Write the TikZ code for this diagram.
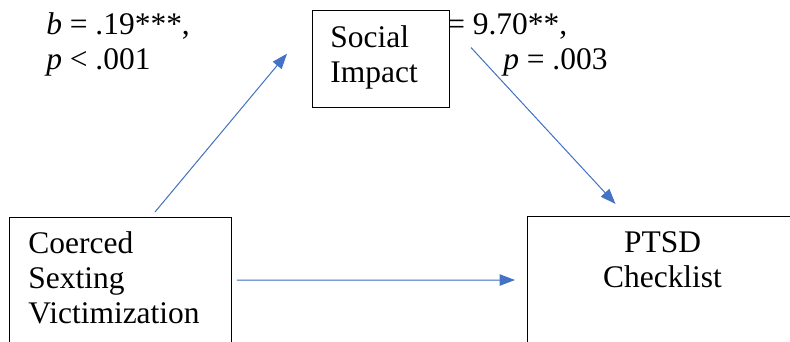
\documentclass[tikz,border=0pt]{standalone}
\usepackage{fontspec}
\setmainfont{Liberation Serif}
\usetikzlibrary{arrows.meta}
\definecolor{pathblue}{RGB}{68,114,196}

\begin{document}
\begin{tikzpicture}[
  every node/.style={font=\fontsize{23.6}{26.4}\selectfont},
  varbox/.style={draw, line width=0.75pt, fill=white, inner ysep=0pt},
  coef/.style={align=left, anchor=base west, inner sep=0pt},
  path arrow/.style={draw=pathblue, line width=0.75pt,
    -{Triangle[length=11.5pt,width=8.5pt]}, fill=pathblue}
]
\useasboundingbox (0,0) rectangle (20.824,8.989);
\clip (0,0) rectangle (20.824,8.989);
\node[coef] (coefa) at (1.213,7.157) {\textit{b} = .19***,\\\textit{p} < .001};
\node[coef] (coefb) at (11.783,7.157) {= 9.70**,\\\hspace*{42pt}\textit{p} = .003};
\node[varbox, anchor=north west, align=left, inner xsep=14.25pt, text width=138pt,
  text height=27pt, text depth=80.25pt] (cscv) at (0.237,3.269)
  {Coerced\\Sexting\\Victimization};
\node[varbox, anchor=north west, align=left, inner xsep=13.5pt, text width=75.75pt,
  text height=27.75pt, text depth=45pt] (social) at (8.224,8.725)
  {Social\\Impact};
\node[varbox, anchor=north west, align=center, inner xsep=7.5pt, text width=187.5pt,
  text height=27pt, text depth=81pt] (ptsd) at (13.892,3.295)
  {PTSD\\Checklist};
\draw[path arrow] ([shift={(109.5pt,3.75pt)}]cscv.north west)
  -- ([shift={(-18.75pt,4pt)}]social.west);
\draw[path arrow] ([shift={(15.75pt,8.6pt)}]social.east)
  -- ([shift={(-35.25pt,9pt)}]ptsd.north);
\draw[path arrow] ([shift={(3.75pt,-47.25pt)}]cscv.north east)
  -- ([shift={(-9pt,-48pt)}]ptsd.north west);
\end{tikzpicture}
\end{document}
